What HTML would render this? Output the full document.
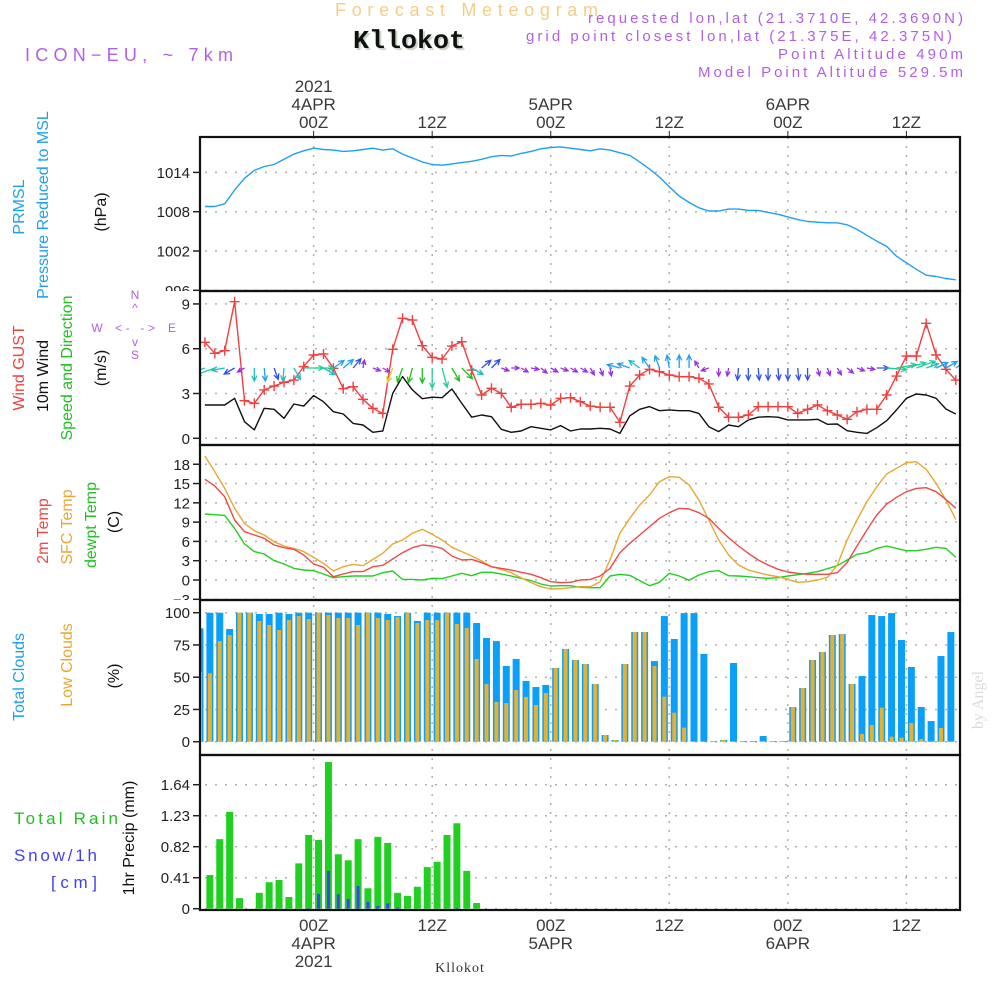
<!DOCTYPE html>
<html><head><meta charset="utf-8"><style>
html,body{margin:0;padding:0;background:#fff}
svg{display:block;font-family:"Liberation Sans",sans-serif}
</style></head><body>
<svg id="chart" width="1000" height="1000" viewBox="0 0 1000 1000" xmlns="http://www.w3.org/2000/svg">
<defs>
<clipPath id="c1"><rect x="0" y="137" width="200" height="154"/></clipPath>
<clipPath id="c3"><rect x="0" y="445" width="200" height="155"/></clipPath>
<clipPath id="plotclip"><rect x="200" y="137" width="760" height="773"/></clipPath>
</defs>
<text x="335" y="16" font-size="18" fill="#f5cd88" textLength="263" lengthAdjust="spacing">Forecast Meteogram</text>
<text x="355" y="50" font-size="26" font-weight="bold" font-family="Liberation Mono, monospace" fill="#c8d8c8" textLength="112" lengthAdjust="spacingAndGlyphs">Kllokot</text>
<text x="353" y="48" font-size="26" font-weight="bold" font-family="Liberation Mono, monospace" fill="#111" textLength="112" lengthAdjust="spacingAndGlyphs">Kllokot</text>
<text x="25" y="61" font-size="18" fill="#b060e8" textLength="208" lengthAdjust="spacing">ICON−EU, ~ 7km</text>
<g fill="#b060e8" font-size="15" text-anchor="end">
<text x="963" y="23" textLength="375" lengthAdjust="spacing">requested lon,lat (21.3710E, 42.3690N)</text>
<text x="952" y="41" textLength="426" lengthAdjust="spacing">grid point closest lon,lat (21.375E, 42.375N)</text>
<text x="963" y="59" textLength="185" lengthAdjust="spacing">Point Altitude 490m</text>
<text x="963" y="77" textLength="265" lengthAdjust="spacing">Model Point Altitude 529.5m</text>
</g>
<g id="grid"></g>
<g id="marks" clip-path="url(#plotclip)"></g>
<g id="frames"></g>
<g id="axes" font-size="15" fill="#222"></g>
<g id="timeaxis" font-size="17" fill="#3a3a3a" text-anchor="middle"></g>

<g font-size="16" text-anchor="middle">
<text transform="translate(24,207) rotate(-90)" fill="#1ea0f0">PRMSL</text>
<text transform="translate(48,205) rotate(-90)" fill="#1ea0f0">Pressure Reduced to MSL</text>
<text transform="translate(106,212) rotate(-90)" fill="#111">(hPa)</text>
<text transform="translate(24,368) rotate(-90)" fill="#f04040">Wind GUST</text>
<text transform="translate(48,376) rotate(-90)" fill="#111">10m Wind</text>
<text transform="translate(72,368) rotate(-90)" fill="#20c020">Speed and Direction</text>
<text transform="translate(106,368) rotate(-90)" fill="#111">(m/s)</text>
<text transform="translate(48,531) rotate(-90)" fill="#f04848">2m Temp</text>
<text transform="translate(72,527) rotate(-90)" fill="#e8a830">SFC Temp</text>
<text transform="translate(96,525) rotate(-90)" fill="#20c020">dewpt Temp</text>
<text transform="translate(119,522) rotate(-90)" fill="#111">(C)</text>
<text transform="translate(24,677) rotate(-90)" fill="#1ea0f0">Total Clouds</text>
<text transform="translate(72,665) rotate(-90)" fill="#e8a830">Low Clouds</text>
<text transform="translate(119,676) rotate(-90)" fill="#111">(%)</text>
<text transform="translate(134,838) rotate(-90)" fill="#111">1hr Precip (mm)</text>
</g>
<g font-size="17">
<text x="14" y="824" fill="#20c020" textLength="104" lengthAdjust="spacing">Total  Rain</text>
<text x="14" y="861" fill="#4040f0" textLength="83" lengthAdjust="spacing">Snow/1h</text>
<text x="51" y="888" fill="#4040f0" textLength="46" lengthAdjust="spacing">[cm]</text>
</g>
<g fill="#b060e8" font-size="12" text-anchor="middle">
<text x="135" y="299">N</text>
<text x="135" y="312">^</text>
<text x="97" y="332">W</text>
<text x="135" y="332" textLength="40" lengthAdjust="spacing">&lt;- -&gt;</text>
<text x="172" y="332">E</text>
<text x="135" y="346">v</text>
<text x="135" y="359">S</text>
</g>
<text transform="translate(983,700) rotate(-90)" font-size="16" font-family="Liberation Serif, serif" fill="#d8dcd8" text-anchor="middle">by Angel</text>
<text x="460" y="972" font-size="14" font-family="Liberation Serif, serif" fill="#333" text-anchor="middle" letter-spacing="1">Kllokot</text>
</svg>
<script>
const timeTicks = [0, 12, 24, 36, 48, 60];
const topTickLabels = [["2021","4APR","00Z"],["12Z"],["5APR","00Z"],["12Z"],["6APR","00Z"],["12Z"]];
const bottomTickLabels = [["00Z","4APR","2021"],["12Z"],["00Z","5APR"],["12Z"],["00Z","6APR"],["12Z"]];
const pressure = [1008.8,1008.8,1009.2,1011.3,1013.1,1014.3,1014.9,1015.2,1016,1016.8,1017.3,1017.7,1017.5,1017.4,1017.2,1017.3,1017.5,1017.7,1017.4,1017.6,1016.8,1016.2,1015.6,1015.2,1015.1,1015.3,1015.5,1015.7,1016,1016.4,1016.6,1016.5,1016.9,1017.2,1017.6,1017.8,1017.9,1017.7,1017.5,
1017.3,1017.6,1017.4,1017.0,1016.6,1015.6,1014.5,1013.3,1011.8,1010.4,1009.4,1008.6,1008.1,1008.1,1008.4,1008.4,1008.2,1008.2,1007.9,1007.6,1007.2,1006.8,1006.5,1006.4,1006.3,1006.3,1006.0,1005.3,1004.4,1003.5,1002.7,1001.2,1000.2,999.2,998.3,998.1,997.8,997.6];
const pressureTicks = [1014, 1008, 1002, 996];
const gust = [6.43,5.69,5.87,9.15,2.52,2.34,3.24,3.5,3.75,3.9,4.8,5.58,5.65,4.69,3.32,3.46,2.61,2.01,1.67,5.96,8.04,7.92,6.2,5.42,5.31,6.18,6.47,4.57,2.9,3.35,3.01,2.08,2.28,2.28,2.34,2.23,2.68,2.72,2.45,
2.16,2.08,2.08,1.07,3.5,4.24,4.62,4.46,4.24,4.13,4.13,4.02,3.64,2.08,1.41,1.41,1.56,2.12,2.12,2.12,2.12,1.67,1.94,2.23,1.85,1.56,1.27,1.78,1.94,1.94,2.9,4.17,5.51,5.51,7.7,5.58,4.62,3.9];
const wind = [2.23,2.23,2.23,2.68,1.11,0.56,2.01,1.94,1.34,2.3,2.16,2.86,2.45,1.78,1.63,1.0,0.89,0.4,0.49,3.01,4.13,3.24,2.65,2.75,2.72,3.3,2.34,1.41,1.56,1.45,0.6,0.4,0.49,0.78,0.67,0.56,0.85,0.49,0.62,
0.62,0.67,0.62,0.33,1.51,1.94,2.12,1.85,1.9,1.85,1.85,1.67,0.78,0.45,0.89,0.78,1.23,1.41,1.45,1.41,1.23,1.23,1.23,1.27,0.94,0.96,0.51,0.4,0.33,0.71,1.18,1.9,2.68,2.97,2.9,2.68,1.96,1.63];
const windDir = [200,200,190,210,210,270,275,290,265,300,0,0,330,35,40,50,80,340,330,250,250,255,270,270,285,300,315,330,40,45,340,0,330,350,320,330,340,330,330,300,290,280,165,160,145,125,110,100,90,90,120,200,270,260,265,270,275,270,275,270,275,270,285,290,300,320,340,350,0,355,10,15,20,20,25,30,35];
const windCls = [3,4,3,1,0,3,2,1,3,3,4,4,3,2,2,1,0,0,0,6,5,5,5,4,4,5,5,3,1,1,0,0,0,0,0,0,0,0,0,0,0,0,2,2,3,2,2,2,2,2,0,0,0,0,1,1,1,1,1,1,1,1,0,0,0,0,0,0,1,4,4,4,4,3,2,2,2];
const windTicks = [9, 6, 3, 0];
const temp2m = [15.66,14.62,12.96,9.33,7.51,7.0,6.48,5.44,5.03,4.77,3.89,2.49,1.97,0.52,0.93,1.3,1.3,2.07,2.28,3.27,4.25,5.03,5.44,5.29,4.92,3.73,3.11,3.21,2.7,2.07,1.81,1.56,1.19,0.88,0.36,-0.26,-0.41,-0.36,0,
0.1,0.62,1.81,4.25,5.7,7.0,8.29,9.59,10.47,11.15,11.04,10.47,9.59,8.03,6.58,5.29,4.15,3.11,2.33,1.66,1.24,1.04,0.88,0.88,0.88,1.14,2.7,5.29,7.78,10.11,11.82,12.86,13.74,14.25,14.36,13.74,12.54,11.15];
const tempSfc = [19.28,16.85,14.25,11.15,8.81,7.67,7.0,5.96,5.29,4.92,4.41,3.52,2.59,1.4,2.07,2.43,2.23,3.21,4.15,5.6,6.22,7.26,7.88,7.1,6.22,5.08,4.41,3.73,2.95,2.07,1.66,1.14,0.36,-0.41,-1.04,-1.4,-1.35,-1.19,-1.04,
-1.04,-0.26,3.11,7.26,9.59,11.66,13.22,15.29,16.07,15.97,14.77,12.44,9.33,6.22,3.89,2.33,1.56,1.14,0.78,0.52,0.1,-0.36,-0.26,0,0.41,2.33,6.22,9.33,12.18,14.51,16.49,17.37,18.25,18.4,17.22,15.03,12.44,9.43];
const dewpt = [10.26,10.16,10.05,8.03,5.6,4.41,4.04,3.0,2.49,1.81,1.56,1.45,0.93,0.36,0.52,0.62,0.62,0.62,1.14,1.4,0.1,0.1,0,0.26,0.21,0.62,1.04,0.67,1.19,1.19,0.93,0.62,0.26,-0.1,-0.62,-0.93,-0.88,-0.88,-1.14,
-1.19,-1.19,0.62,0.88,0.72,-0.1,-0.88,-0.36,1.04,0.62,-0.05,0.78,1.3,1.45,0.67,0.62,0.52,0.36,0.26,0.36,0.62,0.83,1.04,1.3,1.76,2.23,3.11,4.0,4.25,4.92,5.29,4.92,4.56,4.56,4.77,5.08,4.92,3.52];
const tempTicks = [18, 15, 12, 9, 6, 3, 0, -3];
const cloudTotal = [87.9,100,100,87.4,100,100,99,99,100,99,100,100,100,100,100,100,100,100,100,99,97.4,100,93.6,100,100,100,100,100,92,80.4,78,58.7,64.1,47.1,42.4,44,57.1,71.9,63.3,60.2,44.7,5.2,1.3,60.2,85,85,62.5,97.4,79.6,99.7,99.7,68,0.5,1.3,61,0.5,0.5,4.4,0.3,0.3,26.9,41.6,63.3,69.5,82.7,83.5,44.7,50.9,98.2,97.4,99.7,78.8,57.9,26.9,16,66.4,85];
const cloudLow = [54.3,53,78,82.7,100,100,93.6,90.5,86.6,94.3,97.4,95.1,100,98.2,95.9,95.9,90.5,100,95.9,94.3,96.6,100,92,94.3,94.3,100,91.2,88.1,64.1,44.7,30.8,30,40.1,34.7,28.5,37.8,57.1,71.9,63.3,60.2,44.7,5.2,1.3,60.2,85,85,58.7,34.9,22.5,10.9,0,0,0.5,1.3,0,0,0,0.5,0,0,26.9,41.6,63.3,69.5,82.7,83.5,44.7,6,12.9,26.4,3.9,3.1,14.5,2.1,0,10.6,0];
const cloudTicks = [100, 75, 50, 25, 0];
const rain = [0,0.446,0.92,1.28,0.14,0,0.21,0.35,0.38,0.155,0.6,0.975,0.91,1.94,0.72,0.64,0.92,0.27,0.95,0.87,0.21,0.17,0.29,0.55,0.62,0.975,1.13,0.5,0.075,0,0,0,0,0,0,0,0,0,0,0,0,0,0,0,0,0,0,0,0,0,0,0,0,0,0,0,0,0,0,0,0,0,0,0,0,0,0,0,0,0,0,0,0,0,0,0,0];
const snow = [0,0,0,0,0,0,0,0,0,0,0,0.01,0.195,0.5,0.19,0.13,0.3,0.09,0.035,0.07,0.013,0,0,0,0,0,0.005,0,0,0,0,0,0,0,0,0,0,0,0,0,0,0,0,0,0,0,0,0,0,0,0,0,0,0,0,0,0,0,0,0,0,0,0,0,0,0,0,0,0,0,0,0,0,0,0,0,0];
const precipTicks = [1.64, 1.23, 0.82, 0.41, 0];
const precipTickLabels = ["1.64", "1.23", "0.82", "0.41", "0"];

const NS = "http://www.w3.org/2000/svg";
const X0 = 200, X1 = 960, PXH = 9.88, T0 = -11.5;
function xT(t){ return X0 + (t - T0) * PXH; }
function xLine(i){ return xT(-11 + i); }
function xBar(k){ return xT(-11.5 + k); }
const panels = [[137,291],[291,445],[445,600],[600,755],[755,910]];
function yP(v){ return 290.3 - (v - 996) * 6.55; }
function yW(v){ return 438.3 - v * 14.93; }
function yT(v){ return 580 - v * 6.43; }
function yC(v){ return 741.7 - v * 1.29; }
function yR(v){ return 908.7 - v * 75.6; }

function el(tag, parent){ const e = document.createElementNS(NS, tag); parent.appendChild(e); return e; }
const grid = document.getElementById('grid');
const marks = document.getElementById('marks');
const frames = document.getElementById('frames');
const axes = document.getElementById('axes');
const taxis = document.getElementById('timeaxis');

timeTicks.forEach((t, i) => {
  const x = xT(t);
  const g = el('line', grid);
  
  
  g.setAttribute('x1', x); g.setAttribute('x2', x); g.setAttribute('y1', 137); g.setAttribute('y2', 910);
  g.setAttribute('stroke', '#b0b0b0'); g.setAttribute('stroke-width', 1.5); g.setAttribute('stroke-dasharray', '2,7');
  const tk = el('line', frames);
  
  
  tk.setAttribute('x1', x); tk.setAttribute('x2', x); tk.setAttribute('y1', 131); tk.setAttribute('y2', 137);
  tk.setAttribute('stroke', '#222'); tk.setAttribute('stroke-width', 1);
  const top = topTickLabels[i];
  top.forEach((s, j) => {
    const tx = el('text', taxis);
    
    
    tx.setAttribute('x', x); tx.setAttribute('y', 128 - (top.length - 1 - j) * 18);
    tx.textContent = s;
  });
  bottomTickLabels[i].forEach((s, j) => {
    const tx = el('text', taxis);
    
    
    tx.setAttribute('x', x); tx.setAttribute('y', 931 + j * 18);
    tx.textContent = s;
  });
});

function yAxis(ticks, yf, fmt, clip){
  ticks.forEach((v, i) => {
    const y = yf(v);
    const g = el('line', grid);
    
    
    g.setAttribute('x1', 205); g.setAttribute('x2', 960); g.setAttribute('y1', y); g.setAttribute('y2', y);
    g.setAttribute('stroke', '#b0b0b0'); g.setAttribute('stroke-width', 1.5); g.setAttribute('stroke-dasharray', '2,8');
    const tk = el('line', axes);
    
    
    tk.setAttribute('x1', 193); tk.setAttribute('x2', 200); tk.setAttribute('y1', y); tk.setAttribute('y2', y);
    tk.setAttribute('stroke', '#222'); tk.setAttribute('stroke-width', 1.5);
    const tx = el('text', axes);
    
    
    tx.setAttribute('x', 190); tx.setAttribute('y', y + 5.5); tx.setAttribute('text-anchor', 'end');
    if (clip) tx.setAttribute('clip-path', clip);
    tx.textContent = fmt(v, i);
  });
}
yAxis(pressureTicks, yP, v => String(v), 'url(#c1)');
yAxis(windTicks, yW, v => String(v));
yAxis(tempTicks, yT, v => v < 0 ? '−' + (-v) : String(v), 'url(#c3)');
yAxis(cloudTicks, yC, v => String(v));
yAxis(precipTicks, yR, (v, i) => precipTickLabels[i]);

function bars(arr, yf, w, color, name){
  arr.forEach((v, k) => {
    if (v <= 0) return;
    const r = el('rect', marks);
    
    
    const y = yf(v), yb = yf(0);
    r.setAttribute('x', xBar(k) - w / 2); r.setAttribute('y', y);
    r.setAttribute('width', w); r.setAttribute('height', Math.max(0.6, yb - y));
    r.setAttribute('fill', color);
  });
}
bars(cloudTotal, yC, 7, '#0aa0f8', 'total-cloud-bar');
bars(cloudLow, yC, 4, '#e8b030', 'low-cloud-bar');
bars(rain, yR, 7, '#20d020', 'rain-bar');
bars(snow, yR, 3, '#4040ff', 'snow-bar');

function line(arr, xf, yf, color, name, w){
  const p = el('polyline', marks);
  
  
  p.setAttribute('points', arr.map((v, i) => xf(i).toFixed(1) + ',' + yf(v).toFixed(1)).join(' '));
  p.setAttribute('fill', 'none'); p.setAttribute('stroke', color); p.setAttribute('stroke-width', w || 1.4);
  p.setAttribute('stroke-linejoin', 'round');
}
line(pressure, xLine, yP, '#1ea0f0', 'pressure-line');
line(wind, xLine, yW, '#111', 'wind-speed-line');
line(gust, xLine, yW, '#f04040', 'wind-gust-line');
gust.forEach((v, i) => {
  const x = xLine(i), y = yW(v);
  const m = el('path', marks);
  
  
  m.setAttribute('d', `M${x-5},${y}H${x+5}M${x},${y-5}V${y+5}`);
  m.setAttribute('stroke', '#f04040'); m.setAttribute('stroke-width', 1.4);
});
line(dewpt, xLine, yT, '#20d020', 'dewpoint-line');
line(tempSfc, xLine, yT, '#e8a830', 'sfc-temp-line');
line(temp2m, xLine, yT, '#f04848', 'temp-2m-line');

const arrowColors = ['#9a30e0','#3050f0','#20a0f0','#20c0c0','#20d090','#20c020','#e0d020'];
const arrowLens = [8,12,13,13,20,15,15];
windDir.forEach((d, i) => {
  const c = windCls[i], L = arrowLens[c];
  const a = d * Math.PI / 180;
  const x0 = xLine(i), y0 = 368;
  const x1 = x0 + L * Math.cos(a), y1 = y0 - L * Math.sin(a);
  const h = c === 0 ? 5 : 6;
  const a1 = a + Math.PI - 0.45, a2 = a + Math.PI + 0.45;
  const p = el('path', marks);
  
  
  p.setAttribute('d', `M${x0.toFixed(1)},${y0}L${x1.toFixed(1)},${y1.toFixed(1)}M${(x1+h*Math.cos(a1)).toFixed(1)},${(y1-h*Math.sin(a1)).toFixed(1)}L${x1.toFixed(1)},${y1.toFixed(1)}L${(x1+h*Math.cos(a2)).toFixed(1)},${(y1-h*Math.sin(a2)).toFixed(1)}`);
  p.setAttribute('stroke', arrowColors[c]); p.setAttribute('stroke-width', 1.3); p.setAttribute('fill', 'none');
});

panels.forEach((pn, i) => {
  const r = el('rect', frames);
  
  
  r.setAttribute('x', 200); r.setAttribute('y', pn[0]);
  r.setAttribute('width', 760); r.setAttribute('height', pn[1] - pn[0]);
  r.setAttribute('fill', 'none'); r.setAttribute('stroke', '#111'); r.setAttribute('stroke-width', 2.2);
});
</script>
</body></html>
